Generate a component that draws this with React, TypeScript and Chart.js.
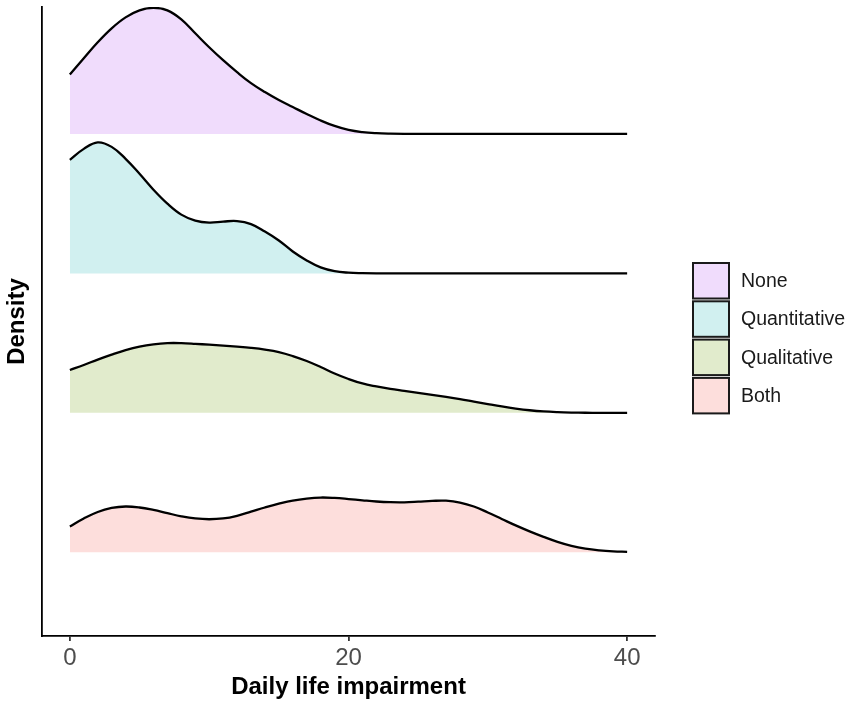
import { useEffect, useRef } from "react";
import { Chart, registerables } from "chart.js";

Chart.register(...registerables);

// Ridge categories, top to bottom
const categories = ["None", "Quantitative", "Qualitative", "Both"];
const ridgePositions = [4, 3, 2, 1];
const fillColors = ["#F0DCFC", "#D1F0F0", "#E1EBCC", "#FDDEDC"];

// Sample positions along the x axis (Daily life impairment)
const xValues = [
  0, 1, 2, 3, 4, 5, 6, 7, 8, 9, 10, 11, 12, 13, 14, 15, 16, 17, 18, 19, 20,
  21, 22, 23, 24, 25, 26, 27, 28, 29, 30, 31, 32, 33, 34, 35, 36, 37, 38, 39, 40,
];

// Relative density heights (ridge spacing = 140)
const noneDensity = [
  59.6, 76, 92, 106, 117, 124, 126.5, 124, 115, 101, 87, 74, 62, 51, 42, 34,
  27, 20, 13.5, 8, 4, 1.8, 0.7, 0.2, 0, 0, 0, 0, 0, 0, 0, 0, 0, 0, 0, 0, 0, 0,
  0, 0, 0,
];
const quantitativeDensity = [
  114, 125, 131.5, 127, 115, 100, 84, 70, 59, 53, 51, 52, 52.5, 49.5, 42, 33,
  22, 13, 6, 2.2, 0.7, 0.2, 0, 0, 0, 0, 0, 0, 0, 0, 0, 0, 0, 0, 0, 0, 0, 0, 0,
  0, 0,
];
const qualitativeDensity = [
  43, 48, 53.5, 58.5, 63, 66.5, 68.8, 70, 70, 69.3, 68.4, 67.4, 66.4, 65.2,
  63.5, 61, 57, 52, 46, 39.5, 34, 29.5, 26.5, 24, 22, 20, 18, 16, 13.8, 11.3,
  8.8, 6.4, 4.3, 2.6, 1.4, 0.7, 0.3, 0.1, 0, 0, 0,
];
const bothDensity = [
  26, 34, 40.5, 44.5, 46, 45, 42.5, 39.3, 36.2, 34, 33.2, 34, 36.7, 40.8, 45,
  48.8, 52, 54, 55, 54.6, 53.5, 52.2, 51, 50.3, 50.2, 50.8, 51.6, 51.8, 50, 46,
  40, 33.5, 27, 21, 15.5, 10.5, 6.5, 3.7, 2, 1, 0.5,
];
const densities = [noneDensity, quantitativeDensity, qualitativeDensity, bothDensity];
const RIDGE_SCALE = 140;

const xTicks = [0, 20, 40];
const xTitle = "Daily life impairment";
const yTitle = "Density";

const legendPlugin = {
  id: "ridgeLegend",
  afterDraw(chart: any) {
    const ctx = chart.ctx as CanvasRenderingContext2D;
    const x0 = 693;
    const y0 = 263;
    const w = 36;
    const h = 35.5;
    const step = 38.3;
    ctx.save();
    categories.forEach((cat, i) => {
      const top = y0 + i * step;
      ctx.fillStyle = fillColors[i];
      ctx.fillRect(x0, top, w, h);
      ctx.strokeStyle = "#1a1a1a";
      ctx.lineWidth = 2;
      ctx.strokeRect(x0, top, w, h);
      ctx.fillStyle = "#1a1a1a";
      ctx.font = "19.5px 'Liberation Sans', Arial, sans-serif";
      ctx.textBaseline = "middle";
      ctx.textAlign = "left";
      ctx.fillText(cat, 741, top + h / 2 + 1);
    });
    ctx.restore();
  },
};

export default function App() {
  const canvasRef = useRef<HTMLCanvasElement | null>(null);

  useEffect(() => {
    document.body.style.margin = "0";
    const canvas = canvasRef.current;
    if (!canvas) return;

    const datasets = categories.map((cat, i) => ({
      label: cat,
      data: xValues.map((x, j) => ({
        x,
        y: ridgePositions[i] + densities[i][j] / RIDGE_SCALE,
      })),
      borderColor: "#000000",
      borderWidth: 2.3,
      backgroundColor: fillColors[i],
      fill: { value: ridgePositions[i] },
      pointRadius: 0,
      tension: 0.4,
    }));

    const chart = new Chart(canvas, {
      type: "line",
      data: { datasets },
      plugins: [legendPlugin],
      options: {
        animation: false,
        responsive: true,
        maintainAspectRatio: false,
        layout: { padding: { top: 7, right: 196, left: 0, bottom: 0 } },
        plugins: {
          legend: { display: false },
          tooltip: { enabled: false },
        },
        scales: {
          x: {
            type: "linear",
            min: -2,
            max: 42,
            afterBuildTicks: (scale: any) => {
              scale.ticks = xTicks.map((v) => ({ value: v }));
            },
            afterFit: (scale: any) => {
              scale.height = 73;
            },
            border: { display: true, color: "#000000", width: 1.8 },
            grid: {
              display: true,
              drawOnChartArea: false,
              drawTicks: true,
              tickLength: 5,
              color: "#333333",
              lineWidth: 1.8,
            },
            ticks: {
              color: "#4D4D4D",
              padding: 3,
              font: { family: "'Liberation Sans', Arial, sans-serif", size: 24, lineHeight: 1.2 },
              maxRotation: 0,
            },
            title: {
              display: true,
              text: xTitle,
              color: "#000000",
              padding: { top: 0, bottom: 7 },
              font: { family: "'Liberation Sans', Arial, sans-serif", size: 24, weight: "bold", lineHeight: 1.2 },
            },
          },
          y: {
            type: "linear",
            min: 0.4,
            max: 4.91,
            afterFit: (scale: any) => {
              scale.width = 42;
            },
            border: { display: true, color: "#000000", width: 1.8 },
            grid: { display: false },
            ticks: { display: false },
            title: {
              display: true,
              text: yTitle,
              color: "#000000",
              padding: { top: 3, bottom: 0 },
              font: { family: "'Liberation Sans', Arial, sans-serif", size: 24, weight: "bold", lineHeight: 1.2 },
            },
          },
        },
      },
    });

    return () => chart.destroy();
  }, []);

  return (
    <div style={{ width: "851px", height: "709px", position: "relative" }}>
      <canvas ref={canvasRef} />
    </div>
  );
}
